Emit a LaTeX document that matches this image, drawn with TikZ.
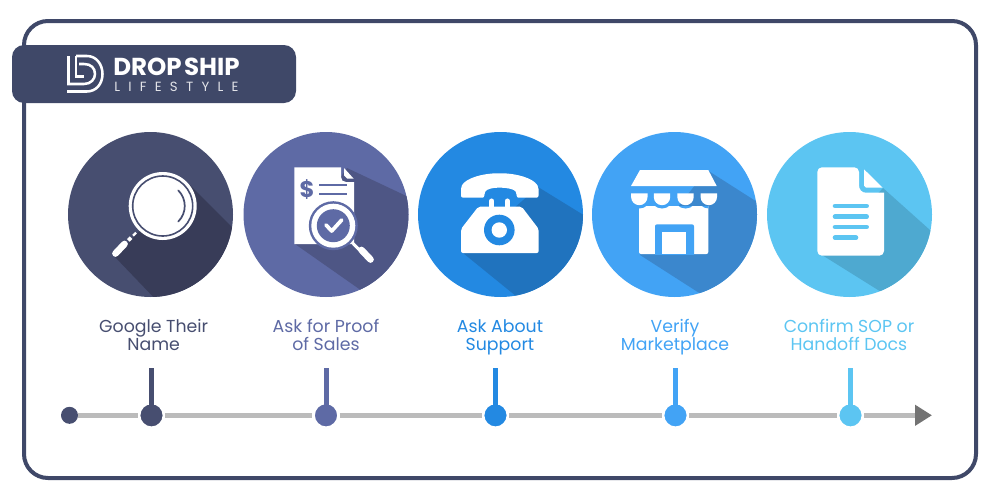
\documentclass[tikz,border=0pt]{standalone}
\usepackage{fontspec}
\usepackage{xcolor}
\usetikzlibrary{arrows.meta,shadows}
\setmainfont{Poppins}
\definecolor{navy}{HTML}{3F4868}
\definecolor{stepA}{HTML}{474E70}
\definecolor{stepB}{HTML}{5E6AA5}
\definecolor{stepC}{HTML}{2389E2}
\definecolor{stepD}{HTML}{42A3F5}
\definecolor{stepE}{HTML}{5CC5F2}
\definecolor{darkA}{HTML}{383C58}
\definecolor{darkB}{HTML}{4E5685}
\definecolor{darkC}{HTML}{2073BE}
\definecolor{darkD}{HTML}{3B87CD}
\definecolor{darkE}{HTML}{4EA9D0}
\definecolor{railgray}{HTML}{BBBBBB}
\definecolor{tipgray}{HTML}{737373}

\begin{document}
\begin{tikzpicture}[x=0.75pt, y=-0.75pt, >=stealth,
    disc/.style={circle, inner sep=0pt, minimum size=123.75pt},
    marker/.style={circle, draw=white, line width=1.9pt, inner sep=0pt, minimum size=18.6pt,
        drop shadow={shadow xshift=0pt, shadow yshift=-0.6pt, opacity=0.25}},
    steplabel/.style={anchor=north, inner sep=0pt, align=center, font=\fontsize{13pt}{13.5pt}\selectfont},
    icon/.style={fill=white, rounded corners=1.5pt}]
    \useasboundingbox (0,0) rectangle (1000,500);

    % Frame and banner
    \node[draw=navy, line width=3pt, rounded corners=18pt, inner sep=0pt, minimum width=714pt, minimum height=342.75pt] (frame) at (500,249.5) {};
    \node[fill=navy, rounded corners=9pt, inner sep=0pt, minimum width=213pt, minimum height=43.5pt] (banner) at (154,74) {};

    % Logo
    \draw[white, line width=1.9pt] (76,56) -- (87,56) .. controls (96,56) and (102.5,64) .. (102.5,74) .. controls (102.5,84) and (96,91.5) .. (87,91.5) -- (67,91.5);
    \draw[white, line width=1.9pt] (68.5,56) -- (68.5,84) -- (84,84) .. controls (91,84) and (95,79) .. (95,74) .. controls (95,68) and (91,64) .. (84,64) -- (79,64);
    \draw[white, line width=1.9pt] (76,56) -- (76,76.5) -- (84,76.5);
    \node[anchor=base west, inner sep=0pt, text=white, font=\fontsize{18.4pt}{19pt}\selectfont\bfseries] (brand) at (113,75) {\spaceskip=0.1em DROP SHIP};
    \node[anchor=base west, inner sep=0pt, text=white!85!navy, font=\fontsize{10pt}{10pt}\selectfont\addfontfeature{LetterSpace=62}] (brandsub) at (114,91) {LIFESTYLE};

    % Step discs
    \foreach \i/\x/\col in {1/150.5/stepA,2/326/stepB,3/500.5/stepC,4/674.5/stepD,5/849.5/stepE}
    \node[disc, fill=\col] (C-\i) at (\x,214.5) {};

    % Long shadows
    \begin{scope}
        \clip (150.5,214.5) circle[radius=82.5];
        \fill[darkA] (190,185) -- (240,235) -- (240,305) -- (161,305) -- (115,257) -- (150,220) -- cycle;
    \end{scope}
    \begin{scope}
        \clip (326,214.5) circle[radius=82.5];
        \fill[darkB] (347,168) -- (417,201) -- (417,305) -- (382,305) -- (295,244) -- cycle;
    \end{scope}
    \begin{scope}
        \clip (500.5,214.5) circle[radius=82.5];
        \fill[darkC] (538,187) -- (590,219) -- (590,305) -- (527,305) -- (463,253) -- cycle;
    \end{scope}
    \begin{scope}
        \clip (674.5,214.5) circle[radius=82.5];
        \fill[darkD] (707,170) -- (765,207) -- (765,305) -- (718,305) -- (640,255) -- cycle;
    \end{scope}
    \begin{scope}
        \clip (849.5,214.5) circle[radius=82.5];
        \fill[darkE] (883,188) -- (940,239) -- (940,305) -- (902,305) -- (822,255) -- cycle;
    \end{scope}

    % Magnifier icon
    \fill[white] (162.7,206) circle[radius=34];
    \draw[stepA, line width=1.2pt] (162.7,206) circle[radius=30];
    \draw[stepA, line width=1.3pt, line cap=round] (178.3,190.4) arc[start angle=-45, end angle=45, radius=22];
    \draw[white, line width=1.8pt] (136,232.7) -- (133,235.7);
    \draw[white, line width=2.8pt] (131,237.7) -- (128.3,240.4);
    \draw[white, line width=5pt, line cap=round] (124.5,244) -- (115.5,253.5);

    % Invoice icon
    \fill[white] (294.3,167.3) -- (341,167.3) -- (341,177) .. controls (341,180) and (343,182) .. (346,182) -- (354,182) -- (354,244) -- (294.3,244) -- cycle;
    \fill[white] (344,168) -- (353.5,178.5) -- (347,178.5) -- (344,175.5) -- cycle;
    \node[inner sep=0pt, text=stepB, font=\fontsize{17pt}{17pt}\selectfont\bfseries] (dollar) at (307,189.5) {\$};
    \draw[stepB, line width=2.1pt] (319.3,185) -- (346.7,185);
    \draw[stepB, line width=2.1pt] (319.3,194) -- (346.7,194);
    \draw[white, line width=2.2pt] (353,243.5) -- (360,250.5);
    \draw[white, line width=5pt, line cap=round] (361.5,250) -- (370.5,259.5);
    \fill[stepB] (333.3,225.7) circle[radius=24.5];
    \fill[white] (333.3,225.7) circle[radius=22];
    \fill[stepB] (333.3,225.7) circle[radius=16.5];
    \draw[white, line width=2.8pt, line cap=round, line join=round] (326,225) -- (331.7,231) -- (341.7,220);

    % Telephone icon
    \fill[icon] (461,197.7) -- (461,187) .. controls (466,178) and (483,173.3) .. (499.5,173.3) .. controls (516,173.3) and (533,178) .. (538.5,187) -- (538.5,197.7) -- (516.7,197.7) -- (516.7,193) .. controls (514,189) and (506,187.7) .. (499.5,187.7) .. controls (493,187.7) and (487,189) .. (484.3,193) -- (484.3,197.7) -- cycle;
    \draw[white, line width=3.8pt, line cap=round] (491.7,201) -- (491.7,208);
    \draw[white, line width=3.8pt, line cap=round] (507.3,201) -- (507.3,208);
    \fill[icon] (461,229) -- (478.3,206.7) -- (521.7,206.7) -- (538.7,229) -- (538.7,253) -- (461,253) -- cycle;
    \fill[stepC] (499.3,230) circle[radius=15.3];
    \fill[white] (499.3,230) circle[radius=7.7];

    % Storefront icon
    \fill[white] (640,170) -- (708.3,170) -- (716.7,186) -- (631,186) -- cycle;
    \begin{scope}
        \clip (639,206) rectangle (708.3,254);
        \fill[icon] (639,200) rectangle (708.3,254);
        \foreach \x in {639.3,662,685.5,708.8}
        \fill[stepD] (\x,197) circle[radius=11.5];
        \fill[stepD, rounded corners=1.5pt] (655,224.3) -- (694,224.3) -- (694,258) -- (655,258) -- cycle;
        \fill[white] (662.3,231.7) rectangle (686,254);
    \end{scope}
    \foreach \x in {639.3,662,685.5,708.8}
    \fill[white] (\x-8.2,193.3) -- (\x+8.2,193.3) -- (\x+8.2,197) arc[start angle=0, end angle=180, radius=8.2] -- cycle;

    % Document icon
    \fill[white, rounded corners=3.5pt] (817.3,167.3) -- (859,167.3) [sharp corners] -- (859,185) .. controls (859,190) and (862,192.7) .. (866,192.7) -- (884,192.7) [rounded corners=3.5pt] -- (884,255.7) -- (817.3,255.7) -- cycle;
    \fill[white] (864,169.3) -- (882.7,187.7) -- (866,187.7) -- (864,185.5) -- cycle;
    \foreach \y/\xe in {206/869,216.7/869,227/869,237.7/858.3}
    \draw[stepE, line width=3.4pt, line cap=round] (835,\y) -- (\xe-2.3,\y);

    % Step labels
    \node[steplabel, text=stepA] (L-1) at (153.7,319) {Google Their\\Name};
    \node[steplabel, text=stepB] (L-2) at (326,319) {Ask for Proof\\of Sales};
    \node[steplabel, text=stepC] (L-3) at (500,319) {Ask About\\Support};
    \node[steplabel, text=stepD] (L-4) at (675,319) {Verify\\Marketplace};
    \node[steplabel, text=stepE] (L-5) at (849,319) {Confirm SOP or\\Handoff Docs};

    % Timeline nodes
    \node[circle, fill=stepA, inner sep=0pt, minimum size=12.75pt] (start) at (69.5,415.3) {};
    \foreach \i/\x/\col in {1/151.5/stepA,2/326/stepB,3/495.5/stepC,4/675.5/stepD,5/850.5/stepE}
    \node[marker, fill=\col] (M-\i) at (\x,415.3) {};
    \coordinate (tip) at (932,415.3);

    % Timeline connections
    \draw[railgray, line width=3.75pt] (start) -- (M-1);
    \foreach \source/\dest in {1/2,2/3,3/4,4/5}
    \draw[railgray, line width=3.75pt] (M-\source) -- (M-\dest);
    \draw[railgray, line width=3.75pt, -{Triangle[length=12.75pt, width=15pt, color=tipgray]}] (M-5) -- (tip);

    % Stems
    \foreach \i/\x/\col in {1/151.5/stepA,2/326/stepB,3/495.5/stepC,4/675.5/stepD,5/850.5/stepE}{
        \coordinate (S-\i) at (\x,368);
        \draw[\col, line width=3.75pt, shorten >=-3pt] (S-\i) -- (M-\i);
    }
\end{tikzpicture}
\end{document}
